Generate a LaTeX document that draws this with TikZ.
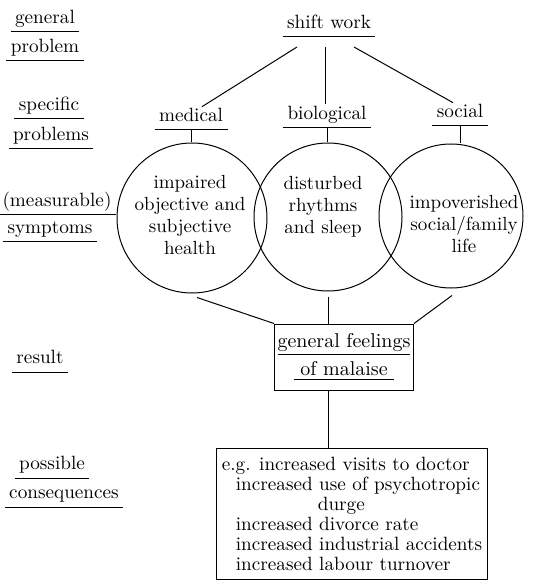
\documentclass[tikz,border=0pt]{standalone}
\usetikzlibrary{positioning,calc}
\begin{document}
\begin{tikzpicture}[x=0.5pt,y=-0.5pt,line width=0.5pt,
  lab/.style={inner xsep=2pt, inner ysep=1.5pt, text depth=2.5pt, anchor=south,
    font=\fontsize{9.6}{11}\selectfont},
  blob/.style={circle, draw, inner sep=0pt},
  txt/.style={align=center, font=\fontsize{9.5}{11}\selectfont}]
\useasboundingbox (0,0) rectangle (533,582);

% levels on the left
\node[lab] (gen) at (45,32) {general};
\node[lab] (prob) at (45,61) {problem};
\node[lab] (spec) at (49,119) {specific};
\node[lab] (probs) at (51,149) {problems};
\node[lab] (meas) at (57,215) {(measurable)};
\node[lab] (sym) at (50,242) {symptoms};
\node[lab] (res) at (40,372) {result};
\node[lab] (poss) at (52,478) {possible};
\node[lab] (cons) at (64,507) {consequences};

% problems
\node[lab] (sw) at (329,37) {shift work};
\node[lab] (med) at (191,130) {medical};
\node[lab] (bio) at (327,128) {biological};
\node[lab] (soc) at (460,126) {social};

\foreach \n in {gen,prob,spec,probs,meas,sym,res,poss,cons,sw,med,bio,soc}
  \draw (\n.south west) -- (\n.south east);

% symptoms
\node[blob, minimum size=75pt] (lc) at (192,218) {};
\node[blob, minimum size=74pt] (mc) at (328,217) {};
\node[blob, minimum size=72pt] (rc) at (451,216) {};
\node[txt] (lct) at (190,215) {impaired\\objective and\\subjective\\health};
\node[txt] (mct) at (323,207) {disturbed\\rhythms\\and sleep};
\node[txt] (rct) at (464,224) {impoverished\\social/family\\life};

% result and consequences
\node[draw, align=center, inner xsep=0.5pt, minimum width=69.5pt, minimum height=33pt] (mal) at (344,357)
  {\underline{general feelings}\\[2pt]\underline{\,\,of malaise\,\,}};
\node[draw, align=left, inner xsep=1.5pt, minimum width=135.5pt, minimum height=65.5pt,
  font=\fontsize{9.6}{10}\selectfont] (con) at (352,514)
  {e.g. increased visits to doctor\\
   \hspace*{7pt}increased use of psychotropic\\
   \hspace*{48pt}durge\\
   \hspace*{7pt}increased divorce rate\\
   \hspace*{7pt}increased industrial accidents\\
   \hspace*{7pt}increased labour turnover};

\draw ($(sw.south)+(-32,10)$) -- ($(med.north)+(11,2)$);
\draw ($(sw.south)+(-4,10)$) -- ($(bio.north)+(-2,1)$);
\draw ($(sw.south)+(25,10)$) -- ($(soc.north)+(-7,2)$);
\draw (med.south) -- (med.south |- lc.north);
\draw (bio.south) -- (bio.south |- mc.north);
\draw (soc.south) -- (soc.south |- rc.north);

\draw ($(lc.south)+(5,4)$) -- (mal.north west);
\draw ($(mc.south)+(0,5)$) -- (mc.south |- mal.north);
\draw ($(rc.south)+(1,7)$) -- (mal.north east);
\draw (mc.south |- mal.south) -- (mc.south |- con.north);
\end{tikzpicture}
\end{document}
